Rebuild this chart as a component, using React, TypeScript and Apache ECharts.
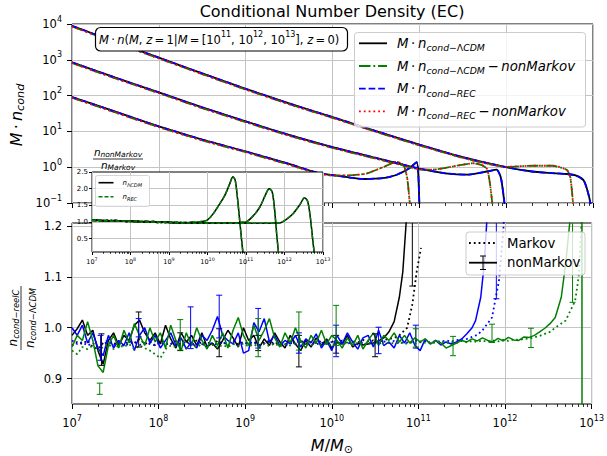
import React, { useEffect, useRef } from 'react';
import * as echarts from 'echarts';

const FONT = 'DejaVu Sans';
const BLACK = '#000000';
const GREEN = '#008000';
const BLUE = '#0000ff';
const RED = '#ff0000';
const GRIDC = '#c4c4c4';

// ---------------- Top panel: log10(M/Msun) and log10(M·n_cond) ----------------
const TOP11_MK_LM = [7.0, 7.5, 8.0, 8.5, 9.0, 9.5, 9.82, 10.0, 10.36, 10.6, 10.74, 10.89, 10.97, 10.99, 11.0, 11.01];
const TOP11_MK_LV = [1.96, 1.55, 1.14, 0.77, 0.44, 0.09, -0.15, -0.22, -0.33, -0.30, -0.21, -0.02, 0.14, -0.3, -1.0, -1.5];
const TOP11_NM_LM = [7.0, 7.5, 8.0, 8.5, 9.0, 9.5, 9.82, 10.0, 10.2, 10.4, 10.59, 10.74, 10.82, 10.86, 10.89, 10.91];
const TOP11_NM_LV = [1.94, 1.53, 1.12, 0.75, 0.42, 0.07, -0.17, -0.23, -0.23, -0.17, 0.01, 0.15, 0.05, -0.3, -1.0, -1.5];

const TOP12_MK_LM = [7.0, 7.5, 8.0, 8.5, 9.0, 9.5, 10.0, 10.5, 11.0, 11.3, 11.55, 11.78, 11.89, 11.94, 11.98, 12.0];
const TOP12_MK_LV = [2.93, 2.50, 2.09, 1.67, 1.28, 0.90, 0.56, 0.26, -0.04, -0.17, -0.21, -0.12, -0.07, -0.3, -1.0, -1.5];
const TOP12_NM_LM = [7.0, 7.5, 8.0, 8.5, 9.0, 9.5, 10.0, 10.5, 10.8, 11.0, 11.15, 11.3, 11.45, 11.62, 11.72, 11.78, 11.81, 11.84, 11.86];
const TOP12_NM_LV = [2.91, 2.48, 2.07, 1.65, 1.26, 0.88, 0.54, 0.24, 0.06, -0.06, -0.07, -0.02, 0.05, 0.11, 0.06, -0.05, -0.4, -1.0, -1.5];

const TOP13_MK_LM = [7.0, 7.5, 8.0, 8.5, 9.0, 9.5, 10.0, 10.5, 11.0, 11.5, 12.0, 12.3, 12.5, 12.7, 12.8, 12.89, 12.93, 12.97, 12.99];
const TOP13_MK_LV = [3.95, 3.50, 3.06, 2.62, 2.19, 1.78, 1.40, 1.01, 0.63, 0.28, 0.00, -0.12, -0.16, -0.19, -0.23, -0.36, -0.6, -1.0, -1.5];
const TOP13_NM_LM = [7.0, 7.5, 8.0, 8.5, 9.0, 9.5, 10.0, 10.5, 11.0, 11.5, 11.8, 12.0, 12.3, 12.54, 12.7, 12.74, 12.77, 12.79];
const TOP13_NM_LV = [3.93, 3.48, 3.04, 2.60, 2.17, 1.76, 1.38, 0.99, 0.61, 0.26, 0.09, 0.01, 0.04, 0.04, -0.08, -0.3, -1.0, -1.5];

// ---------------- Inset: n_nonMarkov / n_Markov ----------------
const INSET_LM = [7.0, 7.1, 7.2, 7.3, 7.4, 7.5, 7.6, 7.7, 7.8, 7.9, 8.0, 8.1, 8.2, 8.3, 8.4, 8.5, 8.6, 8.7, 8.8, 8.9,
  9.0, 9.1, 9.2, 9.3, 9.4, 9.5, 9.6, 9.7, 9.8, 9.9, 10.0, 10.1, 10.2, 10.3, 10.4, 10.5, 10.6, 10.7, 10.8, 10.9,
  11.0, 11.1, 11.2, 11.3, 11.4, 11.5, 11.6, 11.7, 11.8];
const IN11 = [1.06, 1.03, 1.07, 1.04, 1.05, 1.02, 1.06, 1.03, 1.04, 1.01, 1.04, 1.02, 1.03, 1.00, 1.03, 1.01, 1.02, 0.99, 1.01, 1.00,
  1.00, 0.98, 1.00, 0.97, 0.99, 0.98, 1.00, 0.99, 1.01, 1.02];
const IN11_TAIL = [[10.0, 1.06], [10.15, 1.25], [10.32, 1.55], [10.45, 1.8], [10.58, 2.15], [10.66, 2.36], [10.72, 2.25], [10.78, 1.7], [10.84, 1.0], [10.9, 0.3], [10.93, 0.0]];
const IN12 = [1.05, 1.07, 1.03, 1.05, 1.02, 1.05, 1.03, 1.04, 1.02, 1.03, 1.01, 1.03, 1.00, 1.02, 0.99, 1.01, 0.99, 1.00, 0.98, 1.00,
  0.98, 0.99, 0.97, 0.99, 0.97, 0.98, 0.96, 0.98, 0.97, 0.98, 0.96, 0.97, 0.96, 0.97, 0.96, 0.97, 0.96, 0.97, 0.98, 0.99];
const IN12_TAIL = [[11.0, 1.0], [11.2, 1.2], [11.36, 1.45], [11.5, 1.8], [11.6, 2.0], [11.68, 1.9], [11.74, 1.4], [11.8, 0.6], [11.85, 0.0]];
const IN13 = [1.04, 1.06, 1.04, 1.03, 1.05, 1.02, 1.04, 1.02, 1.03, 1.01, 1.03, 1.00, 1.02, 0.99, 1.01, 0.99, 1.00, 0.98, 1.00, 0.98,
  0.99, 0.97, 0.98, 0.96, 0.98, 0.97, 0.97, 0.96, 0.97, 0.96, 0.97, 0.96, 0.97, 0.96, 0.96, 0.97, 0.96, 0.96, 0.97, 0.96,
  0.96, 0.97, 0.96, 0.96, 0.96, 0.97, 0.96, 0.97, 0.97];
const IN13_TAIL = [[11.9, 0.98], [12.05, 1.08], [12.22, 1.25], [12.4, 1.52], [12.52, 1.73], [12.6, 1.62], [12.67, 1.15], [12.73, 0.5], [12.78, 0.0]];

// ---------------- Bottom panel: n_cond-reelC / n_cond-LCDM ----------------
const BOT_LM = [7.00, 7.06, 7.12, 7.18, 7.24, 7.30, 7.36, 7.42, 7.48, 7.54, 7.60, 7.66, 7.72, 7.78, 7.84, 7.90, 7.96, 8.02, 8.08, 8.14,
  8.20, 8.26, 8.32, 8.38, 8.44, 8.50, 8.56, 8.62, 8.68, 8.74, 8.80, 8.86, 8.92, 8.98, 9.04, 9.10, 9.16, 9.22, 9.28, 9.34,
  9.40, 9.46, 9.52, 9.58, 9.64, 9.70, 9.76, 9.82, 9.88, 9.94, 10.00, 10.06, 10.12, 10.18, 10.24, 10.30, 10.36, 10.42, 10.48, 10.54,
  10.60, 10.66, 10.72, 10.78, 10.84, 10.90, 10.96, 11.02, 11.08, 11.14, 11.20, 11.26, 11.32, 11.38, 11.44, 11.50, 11.56, 11.62, 11.68, 11.74,
  11.80, 11.86, 11.92, 11.98, 12.04, 12.10, 12.16, 12.22, 12.28, 12.34, 12.40, 12.46, 12.52, 12.58, 12.64, 12.70, 12.76, 12.82, 12.88, 12.94];

const BK_NM = [0.985, 0.998, 1.015, 0.985, 0.995, 0.955, 0.928, 0.975, 0.990, 0.965,
  0.985, 0.975, 1.005, 1.015, 0.990, 0.975, 0.990, 0.968, 1.005, 0.978,
  0.960, 0.990, 0.972, 0.985, 0.965, 0.990, 0.962, 0.970, 0.958, 0.975,
  0.995, 0.980, 0.962, 1.000, 0.975, 0.985, 0.960, 0.978, 0.965, 0.990,
  0.972, 0.960, 0.985, 0.968, 0.955, 0.975, 0.962, 0.980, 0.965, 0.978,
  0.960, 0.972, 0.968, 0.985, 0.962, 0.970, 0.966, 0.968, 0.970, 0.974,
  0.980, 0.992];
const BK_NM_TAIL = [[10.72, 1.012], [10.78, 1.06], [10.82, 1.11], [10.86, 1.21], [10.9, 1.45]];
const BK_MK = [0.965, 0.972, 0.968, 0.975, 0.962, 0.958, 0.970, 0.975, 0.968, 0.972,
  0.965, 0.974, 0.970, 0.978, 0.968, 0.972, 0.966, 0.975, 0.970, 0.968,
  0.974, 0.966, 0.972, 0.969, 0.975, 0.968, 0.972, 0.966, 0.974, 0.970,
  0.968, 0.975, 0.967, 0.972, 0.969, 0.973, 0.966, 0.971, 0.974, 0.968,
  0.972, 0.967, 0.973, 0.969, 0.975, 0.968, 0.972, 0.970, 0.974, 0.968,
  0.973, 0.970, 0.975, 0.969, 0.974, 0.971, 0.976, 0.973, 0.975, 0.972,
  0.976, 0.978, 0.980];
const BK_MK_TAIL = [[10.78, 0.985], [10.87, 1.0], [10.93, 1.046], [10.98, 1.11], [11.03, 1.157]];

const BL_NM = [1.000, 0.985, 1.005, 0.970, 0.990, 0.960, 0.945, 0.985, 0.960, 0.975,
  0.965, 0.990, 0.955, 0.985, 1.000, 0.970, 0.985, 0.960, 0.975, 0.990,
  0.965, 0.980, 0.958, 0.972, 0.960, 0.985, 0.975, 0.995, 1.022, 0.985,
  0.975, 0.968, 0.990, 0.950, 0.955, 1.010, 0.992, 1.018, 0.972, 0.985,
  0.965, 0.975, 0.968, 0.985, 0.962, 0.978, 0.970, 0.988, 0.960, 0.975,
  0.955, 0.985, 0.968, 0.990, 0.972, 0.958, 0.980, 0.985, 0.962, 0.995,
  0.965, 0.972, 0.960, 0.985, 0.970, 0.990, 0.965, 0.955, 0.978, 0.968,
  0.975, 0.966, 0.972, 0.968, 0.972, 0.978, 0.988];
const BL_NM_TAIL = [[11.62, 1.0], [11.66, 1.014], [11.72, 1.06], [11.76, 1.125], [11.79, 1.21], [11.83, 1.45]];
const BL_MK = [0.975, 0.968, 0.972, 0.965, 0.970, 0.962, 0.968, 0.972, 0.966, 0.970,
  0.964, 0.969, 0.972, 0.966, 0.970, 0.968, 0.965, 0.971, 0.967, 0.970,
  0.964, 0.969, 0.972, 0.966, 0.970, 0.968, 0.965, 0.970, 0.967, 0.972,
  0.966, 0.969, 0.965, 0.971, 0.967, 0.970, 0.966, 0.969, 0.972, 0.967,
  0.970, 0.965, 0.970, 0.968, 0.972, 0.966, 0.970, 0.967, 0.971, 0.968,
  0.972, 0.966, 0.970, 0.968, 0.973, 0.967, 0.971, 0.969, 0.972, 0.968,
  0.973, 0.970, 0.974, 0.969, 0.972, 0.970, 0.975, 0.971, 0.973, 0.970,
  0.974, 0.972, 0.975, 0.973, 0.976, 0.975, 0.978, 0.982, 0.986];
const BL_MK_TAIL = [[11.74, 0.995], [11.85, 1.02], [11.93, 1.092], [11.98, 1.19], [12.02, 1.32]];

const GR_NM = [0.962, 0.985, 0.975, 1.012, 0.975, 0.925, 0.912, 0.965, 0.985, 0.960,
  0.995, 0.970, 1.008, 0.985, 0.965, 1.000, 0.972, 0.990, 0.960, 1.005,
  0.975, 0.955, 0.990, 0.965, 1.000, 0.975, 0.958, 0.985, 0.965, 0.990,
  0.960, 0.995, 1.020, 0.985, 0.965, 1.005, 0.975, 0.995, 1.018, 0.980,
  0.962, 0.990, 0.970, 1.000, 0.975, 0.960, 0.985, 0.970, 0.995, 0.968,
  0.985, 0.975, 0.960, 0.980, 0.965, 0.985, 0.958, 0.975, 0.990, 0.965,
  0.985, 0.975, 0.990, 0.972, 0.985, 0.970, 0.980, 0.972, 0.978, 0.968,
  0.975, 0.970, 0.960, 0.965, 0.970, 0.975, 0.972, 0.978, 0.974, 0.980,
  0.975, 0.972, 0.979, 0.974, 0.981, 0.976, 0.975, 0.982, 0.981, 0.985,
  0.992, 0.999];
const GR_NM_TAIL = [[12.52, 1.008], [12.58, 1.02], [12.65, 1.06], [12.70, 1.125], [12.75, 1.21], [12.82, 1.6], [12.885, 3.0], [12.89, 0.5]];
const GR_MK = [0.955, 0.948, 0.962, 0.958, 0.965, 0.955, 0.962, 0.968, 0.958, 0.965,
  0.962, 0.968, 0.958, 0.965, 0.960, 0.955, 0.948, 0.940, 0.958, 0.965,
  0.962, 0.968, 0.960, 0.966, 0.962, 0.968, 0.963, 0.967, 0.961, 0.966,
  0.962, 0.968, 0.964, 0.969, 0.963, 0.967, 0.962, 0.968, 0.964, 0.969,
  0.963, 0.968, 0.965, 0.970, 0.964, 0.968, 0.965, 0.970, 0.966, 0.969,
  0.965, 0.970, 0.966, 0.971, 0.967, 0.970, 0.966, 0.971, 0.968, 0.972,
  0.968, 0.971, 0.969, 0.972, 0.968, 0.971, 0.969, 0.973, 0.970, 0.972,
  0.969, 0.973, 0.970, 0.972, 0.970, 0.974, 0.971, 0.974, 0.972, 0.975,
  0.972, 0.975, 0.973, 0.976, 0.974, 0.977, 0.976, 0.978, 0.979, 0.981,
  0.984, 0.988, 0.992];
const GR_MK_TAIL = [[12.58, 1.0], [12.70, 1.014], [12.81, 1.053], [12.85, 1.099], [12.88, 1.19], [12.91, 1.4]];

// error bars: [log10 M, low, high]
const ERR_BK = [[7.34, 0.926, 0.988], [7.77, 0.962, 1.031], [8.25, 0.955, 0.99], [8.70, 0.943, 0.998], [9.15, 0.955, 0.985], [9.62, 0.923, 0.985], [10.05, 0.95, 0.985], [10.50, 0.943, 0.988], [10.93, 1.082, 1.35]];
const ERR_BL = [[7.33, 0.936, 0.985], [7.77, 0.982, 1.018], [8.37, 0.959, 1.041], [8.70, 0.98, 1.064], [9.15, 0.96, 1.038], [9.62, 0.95, 0.99], [10.05, 0.943, 1.005], [10.54, 0.949, 1.001], [10.97, 0.96, 1.005], [11.9, 1.057, 1.4]];
const ERR_GR = [[7.32, 0.869, 0.891], [8.25, 0.956, 1.016], [9.15, 0.943, 1.018], [9.62, 0.956, 1.031], [10.05, 0.965, 1.044], [10.97, 0.962, 0.998], [11.40, 0.945, 0.983], [11.85, 0.971, 1.007], [12.30, 0.961, 0.999], [12.78, 1.05, 1.4]];

const BOT_HGRID = [0.9, 1.0, 1.1, 1.2];
const BOT_YTICKS = [0.9, 1.0, 1.1, 1.2];
const IN_HGRID = [0.5, 1.0, 1.5, 2.0];
const IN_YTICKS = [0.5, 1.0, 1.5, 2.0, 2.5];

// ---------------- helpers ----------------
const p10 = (x: number) => Math.pow(10, x);
const logPts = (lm: number[], lv: number[]) => lm.map((l, i) => [p10(l), p10(lv[i])]);
const gridPts = (grid: number[], v: number[], tail: number[][]) =>
  v.map((y, i) => [p10(grid[i]), y]).concat(tail.map((t) => [p10(t[0]), t[1]]));

const DASH = [6.7, 2.9];
const DASHDOT = [11.5, 2.9, 1.8, 2.9];
const DOT = [1.8, 3.0];

function logLabel(v: number) {
  const e = Math.round(Math.log10(v));
  const s = e < 0 ? '\u2212' + Math.abs(e) : String(e);
  return '{b|10}{s|' + s + '}';
}
const logRich = (b: number, s: number, lh: number) => ({
  b: { fontFamily: FONT, fontSize: b, color: '#000', lineHeight: lh },
  s: { fontFamily: FONT, fontSize: s, color: '#000', lineHeight: s, verticalAlign: 'top' },
});

const mathRich = (b: number, s: number, lh: number) => ({
  i: { fontFamily: FONT, fontStyle: 'italic', fontSize: b, fill: '#000', lineHeight: lh },
  r: { fontFamily: FONT, fontSize: b, fill: '#000', lineHeight: lh },
  s: { fontFamily: FONT, fontStyle: 'italic', fontSize: s, fill: '#000', lineHeight: s + 1, verticalAlign: 'bottom' },
  sr: { fontFamily: FONT, fontSize: s, fill: '#000', lineHeight: s + 1, verticalAlign: 'bottom' },
  p: { fontFamily: FONT, fontSize: s, fill: '#000', lineHeight: s, verticalAlign: 'top' },
});

function txt(x: number, y: number, text: string, rich: any, align = 'left', rotation = 0, z = 30) {
  return {
    type: 'text', x, y, rotation, z, silent: true,
    style: { text, rich, align, textAlign: align, verticalAlign: 'middle', textVerticalAlign: 'middle', fill: '#000' },
  };
}
function seg(x1: number, y1: number, x2: number, y2: number, color: string, w: number, dash?: number[], z = 30) {
  return { type: 'line', z, silent: true, shape: { x1, y1, x2, y2 }, style: { stroke: color, lineWidth: w, lineDash: dash || null } };
}

function topLine(data: number[][], color: string, type: any) {
  return {
    type: 'line', xAxisIndex: 0, yAxisIndex: 0, data, symbol: 'none', showSymbol: false, silent: true,
    smooth: 0.2, lineStyle: { color, width: 1.8, type }, z: 2,
  };
}
function botLine(data: number[][], color: string, type: any, width: number, extra: any = {}) {
  return {
    type: 'line', xAxisIndex: 1, yAxisIndex: 1, data, symbol: 'none', showSymbol: false, silent: true,
    lineStyle: { color, width, type }, z: 2, ...extra,
  };
}
function inLine(data: number[][], color: string, type: any, extra: any = {}) {
  return {
    type: 'line', xAxisIndex: 2, yAxisIndex: 2, data, symbol: 'none', showSymbol: false, silent: true,
    smooth: 0.3, lineStyle: { color, width: 1.5, type }, z: 13, ...extra,
  };
}
function errSeries(data: number[][], color: string) {
  return {
    type: 'custom', xAxisIndex: 1, yAxisIndex: 1, z: 3, silent: true,
    data: data.map((d) => [p10(d[0]), d[1], d[2]]),
    encode: { x: 0, y: [1, 2] },
    renderItem: (params: any, api: any) => {
      const m = api.value(0);
      const a = api.coord([m, api.value(1)]);
      const b = api.coord([m, api.value(2)]);
      const cs = params.coordSys;
      const top = cs.y, bot = cs.y + cs.height;
      const cl = (y: number) => Math.max(top, Math.min(bot, y));
      const st = { stroke: color, lineWidth: 1 };
      const ch: any[] = [{ type: 'line', shape: { x1: a[0], y1: cl(a[1]), x2: b[0], y2: cl(b[1]) }, style: st }];
      [a, b].forEach((p) => {
        if (p[1] >= top && p[1] <= bot) ch.push({ type: 'line', shape: { x1: p[0] - 3, y1: p[1], x2: p[0] + 3, y2: p[1] }, style: st });
      });
      return { type: 'group', children: ch };
    },
  };
}

function xLog(gridIndex: number, showLabel: boolean, small: boolean, z = 0) {
  return {
    type: 'log', gridIndex, min: 1e7, max: 1e13, logBase: 10, z,
    axisLine: { show: false },
    axisTick: { show: true, length: small ? 3 : 5, lineStyle: { color: '#000', width: 1 } },
    minorTick: { show: true, splitNumber: 9, length: small ? 1.8 : 3, lineStyle: { color: '#000', width: 0.8 } },
    splitLine: { show: true, lineStyle: { color: GRIDC, width: 1 } },
    minorSplitLine: { show: false },
    axisLabel: showLabel
      ? { show: true, margin: small ? 5 : 10, formatter: logLabel, rich: small ? logRich(6.5, 4.8, 10) : logRich(11.5, 8, 18) }
      : { show: false },
  };
}

function buildOption() {
  const top = [
    [TOP11_MK_LM, TOP11_MK_LV, TOP11_NM_LM, TOP11_NM_LV],
    [TOP12_MK_LM, TOP12_MK_LV, TOP12_NM_LM, TOP12_NM_LV],
    [TOP13_MK_LM, TOP13_MK_LV, TOP13_NM_LM, TOP13_NM_LV],
  ];
  const series: any[] = [];
  top.forEach((g) => {
    const mk = logPts(g[0], g[1]);
    const nm = logPts(g[2], g[3]);
    series.push(topLine(mk, BLACK, 'solid'));
    series.push(topLine(nm, GREEN, DASHDOT));
    series.push(topLine(mk, BLUE, DASH));
    series.push(topLine(nm, RED, DOT));
  });

  const gridLineMark = (vals: number[], z: number) => ({
    silent: true, symbol: ['none', 'none'], z, animation: false, label: { show: false },
    lineStyle: { color: GRIDC, width: 1, type: 'solid' },
    emphasis: { disabled: true },
    data: vals.map((v) => ({ yAxis: v })),
  });

  // bottom
  series.push(botLine(gridPts(BOT_LM, BK_MK, BK_MK_TAIL), BLACK, DOT, 1.8, { markLine: gridLineMark(BOT_HGRID, 1) }));
  series.push(botLine(gridPts(BOT_LM, BK_NM, BK_NM_TAIL), BLACK, 'solid', 1.5));
  series.push(errSeries(ERR_BK, BLACK));
  series.push(botLine(gridPts(BOT_LM, BL_MK, BL_MK_TAIL), BLUE, DOT, 1.8));
  series.push(botLine(gridPts(BOT_LM, BL_NM, BL_NM_TAIL), BLUE, 'solid', 1.5));
  series.push(errSeries(ERR_BL, BLUE));
  series.push(botLine(gridPts(BOT_LM, GR_MK, GR_MK_TAIL), GREEN, DOT, 1.8));
  series.push(botLine(gridPts(BOT_LM, GR_NM, GR_NM_TAIL), GREEN, 'solid', 1.5));
  series.push(errSeries(ERR_GR, GREEN));

  // inset
  const ins = [
    gridPts(INSET_LM, IN11, IN11_TAIL),
    gridPts(INSET_LM, IN12, IN12_TAIL),
    gridPts(INSET_LM, IN13, IN13_TAIL),
  ];
  ins.forEach((d, k) => {
    series.push(inLine(d, BLACK, 'solid', k === 0 ? { markLine: gridLineMark(IN_HGRID, 12) } : {}));
    series.push(inLine(d, GREEN, [4, 2]));
  });

  const legRich = mathRich(13.3, 9.3, 18);
  const boxRich = mathRich(11.5, 8, 18);
  const labRich = mathRich(16, 11.2, 20);
  const fracRich = mathRich(10.5, 7.5, 13);
  const bigFracRich = mathRich(12, 8.4, 14);
  const inLegRich = mathRich(7, 5, 9);

  const lcdm = '{i|n}{s|cond}{sr|\u2212\u039B}{s|CDM}';
  const rec = '{i|n}{s|cond}{sr|\u2212}{s|REC}';
  const dotM = '{i|M}{r|\u2009\u00B7\u2009}';
  const nonM = '{r|\u2009\u2212\u2009}{i|nonMarkov}';

  const graphic: any[] = [
    // title
    { type: 'text', x: 332, y: 11, z: 30, silent: true, style: { text: 'Conditional Number Density (EC)', font: '16px "DejaVu Sans"', fill: '#000', align: 'center', textAlign: 'center', verticalAlign: 'middle', textVerticalAlign: 'middle' } },
    // y label top
    txt(16, 115, dotM + '{i|n}{s|cond}', labRich, 'center', Math.PI / 2),
    // x label
    txt(332, 445, '{i|M}{r|/}{i|M}{sr|\u2299}', labRich, 'center'),
    // bottom y label (fraction)
    {
      type: 'group', x: 21, y: 318, rotation: Math.PI / 2, z: 30, silent: true,
      children: [
        txt(0, -8, '{i|n}{s|cond}{sr|\u2212}{s|reelC}', bigFracRich, 'center'),
        seg(-32, 0, 32, 0, '#000', 0.8),
        txt(0, 9, '{i|n}{s|cond}{sr|\u2212\u039B}{s|CDM}', bigFracRich, 'center'),
      ],
    },
    // inset y label (fraction)
    txt(118, 152, '{i|n}{s|nonMarkov}', fracRich, 'center'),
    seg(93, 159, 143, 159, '#000', 0.8),
    txt(118, 165, '{i|n}{s|Markov}', fracRich, 'center'),
    // text box
    { type: 'rect', z: 25, silent: true, shape: { x: 95.5, y: 27.5, width: 252, height: 23.5, r: 5 }, style: { fill: '#fff', stroke: '#000', lineWidth: 1.2 } },
    txt(99, 39.5, dotM + '{i|n}{r|(}{i|M}{r|, }{i|z}{r|\u2009=\u20091|}{i|M}{r|\u2009=\u2009[10}{p|11}{r|, 10}{p|12}{r|, 10}{p|13}{r|], }{i|z}{r|\u2009=\u20090)}', boxRich, 'left'),
    // top legend
    { type: 'rect', z: 25, silent: true, shape: { x: 354.5, y: 32.5, width: 231, height: 94.5, r: 3 }, style: { fill: 'rgba(255,255,255,0.8)', stroke: '#cccccc', lineWidth: 1 } },
    seg(359, 43.3, 387, 43.3, BLACK, 1.8),
    seg(359, 66, 387, 66, GREEN, 1.8, DASHDOT),
    seg(359, 88.7, 387, 88.7, BLUE, 1.8, DASH),
    seg(359, 111.3, 387, 111.3, RED, 1.8, DOT),
    txt(397, 43.3, dotM + lcdm, legRich),
    txt(397, 66, dotM + lcdm + nonM, legRich),
    txt(397, 88.7, dotM + rec, legRich),
    txt(397, 111.3, dotM + rec + nonM, legRich),
    // bottom legend
    { type: 'rect', z: 25, silent: true, shape: { x: 466, y: 232, width: 119, height: 43, r: 3 }, style: { fill: 'rgba(255,255,255,0.8)', stroke: '#cccccc', lineWidth: 1 } },
    seg(469, 243, 497, 243, BLACK, 1.8, DOT),
    seg(469, 262.7, 497, 262.7, BLACK, 1.8),
    seg(483, 256, 483, 269.5, BLACK, 1),
    seg(480, 256, 486, 256, BLACK, 1),
    seg(480, 269.5, 486, 269.5, BLACK, 1),
    { type: 'text', x: 507, y: 243, z: 30, silent: true, style: { text: 'Markov', font: '13.3px "DejaVu Sans"', fill: '#000', align: 'left', textAlign: 'left', verticalAlign: 'middle', textVerticalAlign: 'middle' } },
    { type: 'text', x: 507, y: 262.7, z: 30, silent: true, style: { text: 'nonMarkov', font: '13.3px "DejaVu Sans"', fill: '#000', align: 'left', textAlign: 'left', verticalAlign: 'middle', textVerticalAlign: 'middle' } },
    // inset legend
    { type: 'rect', z: 25, silent: true, shape: { x: 95.5, y: 175.5, width: 54, height: 31, r: 2 }, style: { fill: 'rgba(255,255,255,0.8)', stroke: '#cccccc', lineWidth: 0.8 } },
    seg(98.5, 182.7, 113.5, 182.7, BLACK, 1.6),
    seg(98.5, 196.7, 113.5, 196.7, GREEN, 1.6, [4, 2]),
    txt(122.5, 182.7, '{i|n}{sr|\u039B}{s|CDM}', inLegRich),
    txt(122.5, 196.7, '{i|n}{s|REC}', inLegRich),
  ];

  return {
    animation: false,
    backgroundColor: '#ffffff',
    grid: [
      { left: 72, top: 24, width: 521, height: 179, show: true, borderColor: '#000', borderWidth: 1, backgroundColor: 'transparent', containLabel: false },
      { left: 72, top: 223, width: 521, height: 181, show: true, borderColor: '#000', borderWidth: 1, backgroundColor: 'transparent', containLabel: false },
      { left: 92, top: 172, width: 231, height: 80, show: true, borderColor: '#000', borderWidth: 1, backgroundColor: '#ffffff', z: 11, containLabel: false },
    ],
    xAxis: [xLog(0, false, false), xLog(1, true, false), xLog(2, true, true, 12)],
    yAxis: [
      {
        type: 'log', gridIndex: 0, min: 0.1, max: 1e4, logBase: 10,
        axisLine: { show: false },
        axisTick: { show: true, length: 5, lineStyle: { color: '#000' } },
        splitLine: { show: true, lineStyle: { color: GRIDC, width: 1 } },
        axisLabel: { margin: 10, formatter: logLabel, rich: logRich(11.5, 8, 18) },
      },
      {
        type: 'value', gridIndex: 1, min: 0.85, max: 1.206, interval: 0.05,
        axisLine: { show: false },
        axisTick: { show: true, length: 5, lineStyle: { color: '#000' }, customValues: BOT_YTICKS },
        splitLine: { show: false },
        axisLabel: {
          margin: 10, fontFamily: FONT, fontSize: 11.5, color: '#000', customValues: BOT_YTICKS,
          formatter: (v: number) => (Math.abs(v * 10 - Math.round(v * 10)) < 1e-6 && v >= 0.89 && v <= 1.201 ? v.toFixed(1) : ''),
        },
      },
      {
        type: 'value', gridIndex: 2, min: 0.1, max: 2.5, z: 12,
        axisLine: { show: false },
        axisTick: { show: true, length: 3, lineStyle: { color: '#000' }, customValues: IN_YTICKS },
        splitLine: { show: false },
        axisLabel: {
          margin: 4, fontFamily: FONT, fontSize: 7, color: '#000', customValues: IN_YTICKS,
          formatter: (v: number) => (Math.abs(v * 2 - Math.round(v * 2)) < 1e-6 && v >= 0.49 ? v.toFixed(1) : ''),
        },
      },
    ],
    series,
    graphic,
  };
}

export default function App() {
  const ref = useRef<HTMLDivElement>(null);
  useEffect(() => {
    if (!ref.current) return;
    const chart = echarts.init(ref.current, null, { renderer: 'svg' });
    chart.setOption(buildOption() as any);
    return () => chart.dispose();
  }, []);
  return <div ref={ref} style={{ position: 'absolute', left: 0, top: 0, width: 607, height: 456, background: '#fff' }} />;
}
